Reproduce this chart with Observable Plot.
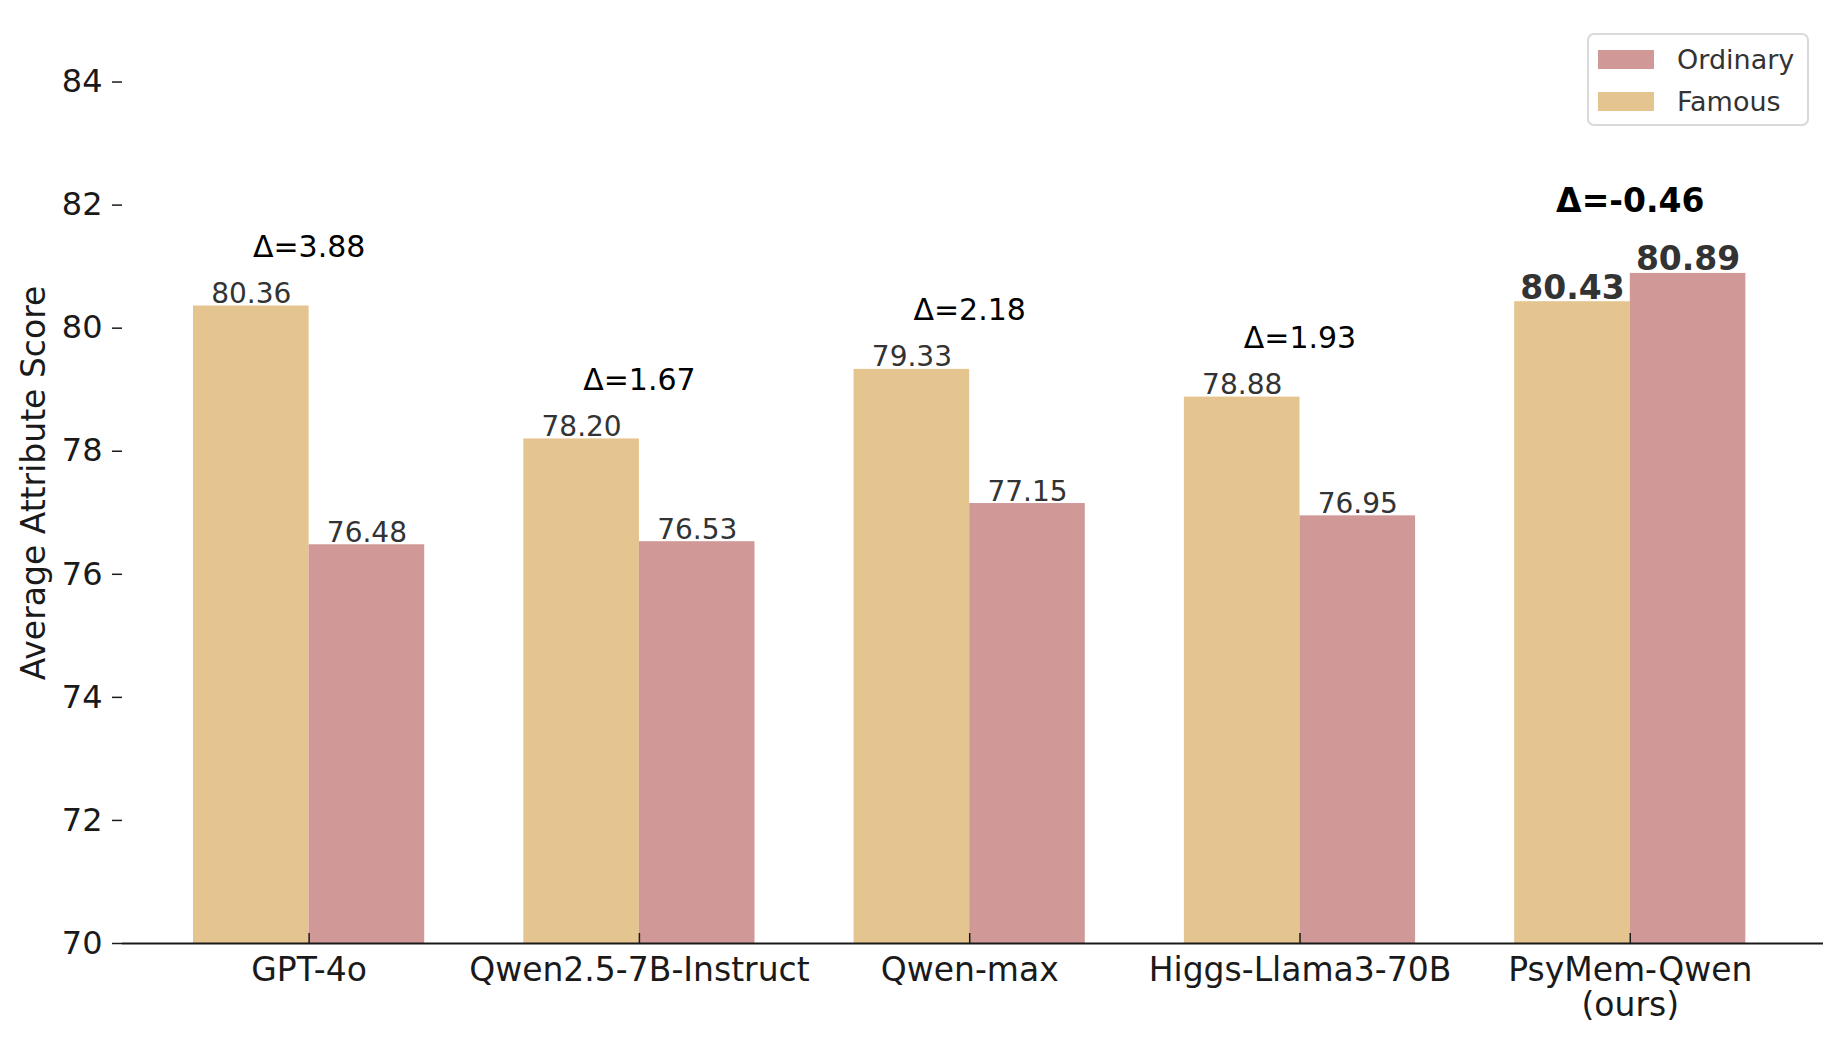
<!DOCTYPE html>
<html>
<head>
<meta charset="utf-8">
<script src="https://cdn.jsdelivr.net/npm/d3@7"></script>
<script src="https://cdn.jsdelivr.net/npm/@observablehq/plot@0.6"></script>
<style>
  html, body { margin: 0; padding: 0; background: white; }
  #wrap { position: relative; width: 1841px; height: 1044px; font-family: "DejaVu Sans", sans-serif; }
  #legend { position: absolute; left: 1587px; top: 33px; width: 218px; height: 89px;
    border: 2px solid #d9d9d9; border-radius: 7px; background: rgba(255,255,255,0.85); }
  .item { position: absolute; left: 9px; height: 32px; display: flex; align-items: center; }
  .sw { width: 56px; height: 19px; margin-right: 23px; }
  .lab { font-size: 27px; color: #333; }
</style>
</head>
<body>
<div id="wrap"></div>
<script>
const models = ["GPT-4o", "Qwen2.5-7B-Instruct", "Qwen-max", "Higgs-Llama3-70B", "PsyMem-Qwen\n(ours)"];
const famous = [80.36, 78.20, 79.33, 78.88, 80.43];
const ordinary = [76.48, 76.53, 77.15, 76.95, 80.89];
const highlight = [false, false, false, false, true];
const seriesNames = ["Ordinary", "Famous"];
const seriesColors = ["#d19898", "#e4c48f"];
const yTicks = [70, 72, 74, 76, 78, 80, 82, 84];
const yLabel = "Average Attribute Score";

const barW = 0.35;
const rows = [];
models.forEach((m, i) => {
  rows.push({i, model: m, series: "Famous", value: famous[i], off: -barW, bold: highlight[i]});
  rows.push({i, model: m, series: "Ordinary", value: ordinary[i], off: 0, bold: highlight[i]});
});
const groups = models.map((m, i) => ({
  i, model: m,
  delta: famous[i] - ordinary[i],
  top: Math.max(famous[i], ordinary[i]),
  bold: highlight[i]
}));
const fmt = v => v.toFixed(2);

const chart = Plot.plot({
  width: 1841,
  height: 1044,
  marginLeft: 122,
  marginRight: 18,
  marginTop: 20,
  marginBottom: 101,
  style: {fontFamily: "DejaVu Sans", fontSize: "33px", color: "#1a1a1a", background: "white", overflow: "visible"},
  x: {domain: [-0.565, 4.585]},
  y: {domain: [70, 85]},
  color: {domain: seriesNames, range: seriesColors},
  marks: [
    Plot.rectY(rows, {x1: d => d.i + d.off, x2: d => d.i + d.off + barW, y1: () => 70, y2: "value", fill: "series"}),
    Plot.text(rows.filter(d => !d.bold), {x: d => d.i + d.off + barW / 2, y: "value", text: d => fmt(d.value),
      lineAnchor: "bottom", dy: -3, fontSize: 28, fill: "#333"}),
    Plot.text(rows.filter(d => d.bold), {x: d => d.i + d.off + barW / 2, y: "value", text: d => fmt(d.value),
      lineAnchor: "bottom", dy: -3, fontSize: 33, fontWeight: "bold", fill: "#333"}),
    Plot.text(groups.filter(d => !d.bold), {x: "i", y: d => d.top + 0.8, text: d => "Δ=" + fmt(d.delta),
      lineAnchor: "bottom", fontSize: 30, fill: "black"}),
    Plot.text(groups.filter(d => d.bold), {x: "i", y: d => d.top + 1.0, text: d => "Δ=" + fmt(d.delta),
      lineAnchor: "bottom", fontSize: 33, fontWeight: "bold", fill: "black"}),
    Plot.ruleY([70], {stroke: "#1a1a1a", strokeWidth: 2}),
    Plot.axisX({ticks: models.map((m, i) => i), tickFormat: i => models[i], tickSize: -10, tickPadding: 22,
      lineHeight: 1.08, fontSize: 33, stroke: "#1a1a1a", strokeWidth: 1.5, fill: "#1a1a1a", label: null}),
    Plot.axisY({ticks: yTicks, tickSize: 10, tickPadding: 10, fontSize: 32, fill: "#1a1a1a", strokeWidth: 1.5, label: null}),
    Plot.text([yLabel], {frameAnchor: "left", text: d => d, rotate: -90, textAnchor: "middle", lineAnchor: "top",
      dx: -101, dy: 1, fontSize: 33, fill: "#1a1a1a"})
  ]
});
const wrap = document.getElementById("wrap");
wrap.appendChild(chart);

const legend = document.createElement("div");
legend.id = "legend";
[["Ordinary", 8], ["Famous", 50]].forEach(([name, top]) => {
  const item = document.createElement("div");
  item.className = "item";
  item.style.top = top + "px";
  const sw = document.createElement("div");
  sw.className = "sw";
  sw.style.background = seriesColors[seriesNames.indexOf(name)];
  const lab = document.createElement("span");
  lab.className = "lab";
  lab.textContent = name;
  item.appendChild(sw);
  item.appendChild(lab);
  legend.appendChild(item);
});
wrap.appendChild(legend);
</script>
</body>
</html>
